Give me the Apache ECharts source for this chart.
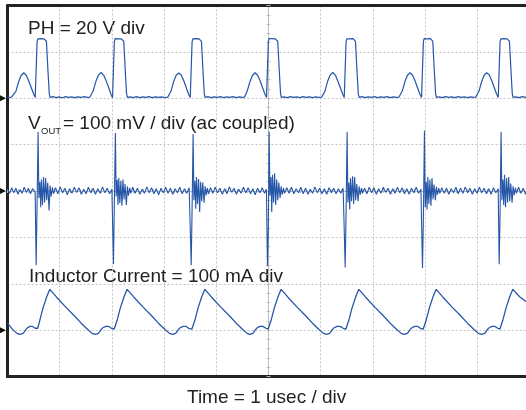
<!DOCTYPE html>
<html>
<head>
<meta charset="utf-8">
<script src="https://cdn.jsdelivr.net/npm/echarts@6.0.0/dist/echarts.min.js"></script>
<style>
html,body{margin:0;padding:0;background:#fff;}
#chart{width:526px;height:410px;}
</style>
</head>
<body>
<div id="chart"></div>
<script>
// Channel labels
const labelPH = 'PH = 20 V div';
const labelVoutMain = 'V';
const labelVoutSub = 'OUT';
const labelVoutRest = '= 100 mV / div (ac coupled)';
const labelIL = 'Inductor Current = 100 mA div';
const labelTime = 'Time = 1 usec / div';

// Time axis: 0..10 us (1 us / div)
const timeMin = 0, timeMax = 10, timeStep = 1;

// PH switch node [time us, volts]
const phTrace = [
[0.00,0.5],[0.04,0.3],[0.08,0.6],
[0.111,0.5],[0.161,3.0],[0.211,7.0],[0.261,9.8],[0.311,11.0],[0.361,9.8],[0.411,7.2],[0.461,4.2],[0.501,1.8],[0.531,0.3],
[0.558,0.2],[0.566,24.2],[0.580,25.6],[0.610,25.1],[0.640,25.7],[0.670,25.2],[0.700,25.6],[0.730,25.0],[0.746,24.6],[0.775,12.0],[0.800,2.0],[0.815,0.4],
[0.87,0.7],[0.93,0.3],[0.99,0.6],[1.05,0.2],[1.11,0.7],[1.17,0.4],[1.23,0.6],[1.29,0.3],[1.35,0.6],[1.41,0.4],[1.47,0.7],[1.53,0.4],[1.58,0.5],
[1.592,0.5],[1.642,3.2],[1.692,7.2],[1.742,10.0],[1.792,11.1],[1.842,10.0],[1.892,7.4],[1.942,4.3],[1.982,1.7],[2.012,0.2],
[2.039,0.3],[2.047,24.4],[2.061,25.7],[2.091,25.2],[2.121,25.6],[2.151,25.0],[2.181,25.6],[2.211,25.1],[2.227,24.6],[2.256,12.0],[2.281,2.0],[2.296,0.4],
[2.35,0.6],[2.41,0.3],[2.47,0.7],[2.53,0.3],[2.59,0.6],[2.65,0.4],[2.71,0.7],[2.77,0.3],[2.83,0.6],[2.89,0.4],[2.95,0.6],[3.01,0.3],[3.07,0.5],
[3.081,0.5],[3.131,3.0],[3.181,7.1],[3.231,9.9],[3.281,10.9],[3.331,9.9],[3.381,7.3],[3.431,4.1],[3.471,1.6],[3.501,0.3],
[3.528,0.2],[3.536,24.3],[3.550,25.6],[3.580,25.0],[3.610,25.7],[3.640,25.1],[3.670,25.6],[3.700,25.0],[3.716,24.5],[3.745,12.0],[3.770,2.0],[3.785,0.4],
[3.84,0.7],[3.90,0.3],[3.96,0.6],[4.02,0.4],[4.08,0.7],[4.14,0.3],[4.20,0.6],[4.26,0.4],[4.32,0.7],[4.38,0.3],[4.44,0.6],[4.50,0.4],
[4.542,0.5],[4.592,3.1],[4.642,7.0],[4.692,9.8],[4.742,11.0],[4.792,9.9],[4.842,7.3],[4.892,4.2],[4.932,1.7],[4.962,0.3],
[4.989,0.2],[4.997,24.4],[5.011,25.7],[5.041,25.1],[5.071,25.7],[5.101,25.0],[5.131,25.6],[5.161,25.1],[5.177,24.6],[5.206,12.0],[5.231,2.0],[5.246,0.4],
[5.30,0.6],[5.36,0.3],[5.42,0.7],[5.48,0.4],[5.54,0.6],[5.60,0.3],[5.66,0.7],[5.72,0.4],[5.78,0.6],[5.84,0.3],[5.90,0.6],[5.96,0.4],[6.02,0.5],
[6.031,0.5],[6.081,3.0],[6.131,7.2],[6.181,10.0],[6.231,11.1],[6.281,10.0],[6.331,7.2],[6.381,4.2],[6.421,1.8],[6.451,0.3],
[6.478,0.2],[6.486,24.3],[6.500,25.6],[6.530,25.1],[6.560,25.6],[6.590,25.0],[6.620,25.7],[6.650,25.1],[6.666,24.5],[6.695,12.0],[6.720,2.0],[6.735,0.4],
[6.79,0.7],[6.85,0.3],[6.91,0.6],[6.97,0.4],[7.03,0.7],[7.09,0.3],[7.15,0.6],[7.21,0.4],[7.27,0.7],[7.33,0.3],[7.39,0.6],[7.45,0.4],[7.50,0.5],
[7.512,0.5],[7.562,3.1],[7.612,7.1],[7.662,9.9],[7.712,11.0],[7.762,9.8],[7.812,7.2],[7.862,4.1],[7.902,1.7],[7.932,0.3],
[7.959,0.2],[7.967,24.4],[7.981,25.7],[8.011,25.0],[8.041,25.6],[8.071,25.1],[8.101,25.7],[8.131,25.0],[8.147,24.6],[8.176,12.0],[8.201,2.0],[8.216,0.4],
[8.27,0.6],[8.33,0.3],[8.39,0.7],[8.45,0.4],[8.51,0.6],[8.57,0.3],[8.63,0.7],[8.69,0.4],[8.75,0.6],[8.81,0.3],[8.87,0.6],[8.93,0.4],[8.97,0.5],
[8.981,0.5],[9.031,3.0],[9.081,7.0],[9.131,9.9],[9.181,11.0],[9.231,10.0],[9.281,7.3],[9.331,4.2],[9.371,1.7],[9.401,0.3],
[9.428,0.2],[9.436,24.3],[9.450,25.6],[9.480,25.1],[9.510,25.7],[9.540,25.0],[9.570,25.6],[9.600,25.1],[9.616,24.6],[9.645,12.0],[9.670,2.0],[9.685,0.4],
[9.74,0.6],[9.80,0.3],[9.86,0.7],[9.92,0.4],[9.97,0.6],[10.0,0.4]
];

// VOUT ripple, ac coupled [time us, mV]
const voutTrace = [
[0.00,4],[0.04,-5],[0.08,7],[0.12,-4],[0.16,6],[0.20,-7],[0.24,3],[0.28,-5],[0.32,8],[0.36,-3],[0.40,6],[0.44,-6],[0.48,5],[0.53,-3],
[0.549,-160],[0.566,-30],[0.586,127],[0.601,-15],[0.621,20],[0.636,-35],[0.651,25],[0.671,-30],[0.691,30],[0.711,-25],[0.731,28],[0.751,-20],[0.771,18],[0.796,-42],[0.816,12],[0.836,-12],[0.861,8],[0.881,-6],
[0.92,7],[0.965,-6],[1.01,9],[1.055,-4],[1.10,6],[1.145,-8],[1.19,5],[1.235,-5],[1.28,8],[1.325,-3],[1.37,7],[1.415,-7],[1.46,4],[1.505,-6],[1.55,8],[1.595,-4],[1.64,6],[1.685,-7],[1.73,5],[1.775,-5],[1.82,9],[1.865,-4],[1.91,6],[1.955,-6],[2.00,4],
[2.030,-158],[2.047,-25],[2.067,125],[2.082,-12],[2.102,24],[2.117,-30],[2.132,28],[2.152,-26],[2.172,22],[2.192,-32],[2.212,25],[2.232,-18],[2.252,15],[2.277,-30],[2.297,10],[2.317,-10],[2.342,7],[2.362,-5],
[2.40,8],[2.445,-5],[2.49,6],[2.535,-7],[2.58,4],[2.625,-5],[2.67,9],[2.715,-4],[2.76,7],[2.805,-6],[2.85,5],[2.895,-8],[2.94,6],[2.985,-4],[3.03,8],[3.075,-5],[3.12,6],[3.165,-7],[3.21,5],[3.255,-4],[3.30,8],[3.345,-6],[3.39,5],[3.435,-5],[3.48,7],
[3.519,-160],[3.536,-40],[3.556,123],[3.571,-20],[3.591,22],[3.606,-38],[3.621,30],[3.641,-28],[3.661,26],[3.681,-45],[3.701,20],[3.721,-22],[3.741,18],[3.766,-25],[3.786,10],[3.806,-9],[3.831,6],[3.851,-6],
[3.89,7],[3.935,-5],[3.98,8],[4.025,-4],[4.07,6],[4.115,-7],[4.16,5],[4.205,-6],[4.25,9],[4.295,-3],[4.34,6],[4.385,-7],[4.43,4],[4.475,-5],[4.52,8],[4.565,-4],[4.61,7],[4.655,-6],[4.70,5],[4.745,-8],[4.79,6],[4.835,-4],[4.88,7],[4.925,-5],[4.96,4],
[4.980,-162],[4.997,-80],[5.012,128],[5.027,-10],[5.047,30],[5.062,-45],[5.077,35],[5.097,-25],[5.117,38],[5.137,-30],[5.157,25],[5.177,-20],[5.197,18],[5.222,-15],[5.242,10],[5.262,-8],[5.287,6],[5.307,-5],
[5.35,7],[5.395,-5],[5.44,8],[5.485,-6],[5.53,5],[5.575,-4],[5.62,8],[5.665,-6],[5.71,6],[5.755,-7],[5.80,4],[5.845,-5],[5.89,9],[5.935,-4],[5.98,6],[6.025,-6],[6.07,5],[6.115,-7],[6.16,7],[6.205,-4],[6.25,6],[6.295,-6],[6.34,5],[6.385,-5],[6.43,6],
[6.469,-165],[6.486,-45],[6.506,127],[6.521,-25],[6.541,18],[6.556,-40],[6.571,28],[6.591,-22],[6.611,32],[6.631,-28],[6.651,30],[6.671,-20],[6.691,15],[6.716,-22],[6.736,10],[6.756,-8],[6.781,6],[6.801,-5],
[6.84,6],[6.885,-6],[6.93,8],[6.975,-4],[7.02,7],[7.065,-7],[7.11,5],[7.155,-5],[7.20,8],[7.245,-3],[7.29,6],[7.335,-7],[7.38,5],[7.425,-5],[7.47,8],[7.515,-4],[7.56,7],[7.605,-6],[7.65,5],[7.695,-7],[7.74,6],[7.785,-4],[7.83,8],[7.875,-5],[7.92,4],
[7.950,-166],[7.967,-60],[7.987,130],[8.002,-35],[8.022,20],[8.037,-40],[8.052,30],[8.072,-28],[8.092,25],[8.112,-32],[8.132,28],[8.152,-18],[8.172,14],[8.197,-20],[8.217,9],[8.237,-8],[8.262,6],[8.282,-5],
[8.32,7],[8.365,-5],[8.41,6],[8.455,-7],[8.50,5],[8.545,-4],[8.59,8],[8.635,-6],[8.68,6],[8.725,-5],[8.77,9],[8.815,-4],[8.86,6],[8.905,-7],[8.95,5],[8.995,-5],[9.04,8],[9.085,-4],[9.13,6],[9.175,-6],[9.22,5],[9.265,-7],[9.31,7],[9.355,-4],[9.40,5],
[9.419,-158],[9.436,-50],[9.456,127],[9.471,-20],[9.491,25],[9.506,-30],[9.521,35],[9.541,-35],[9.561,28],[9.581,-25],[9.601,30],[9.621,-22],[9.641,16],[9.666,-25],[9.686,10],[9.706,-9],[9.731,7],[9.751,-5],
[9.79,8],[9.835,-5],[9.88,6],[9.925,-7],[9.97,5],[10.0,-3]
];

// Inductor current [time us, mA]
const ilTrace = [
[0.00,15],[0.05,8],[0.11,0],[0.18,-7],[0.24,-9],[0.30,-7],[0.37,4],[0.43,8],[0.48,8],[0.53,4],[0.561,2],
[0.581,4],[0.621,22],[0.681,48],[0.751,72],[0.811,88],[0.821,87],[0.941,71],[1.121,49],[1.271,32],[1.411,15],[1.541,1],[1.621,-7],[1.681,-9],[1.741,-7],[1.811,4],[1.881,8],[1.941,8],[1.991,4],[2.042,2],
[2.062,4],[2.102,22],[2.162,48],[2.232,72],[2.292,88],[2.302,87],[2.422,71],[2.602,49],[2.752,32],[2.892,15],[3.022,1],[3.102,-7],[3.162,-9],[3.222,-7],[3.292,4],[3.362,8],[3.422,8],[3.472,4],[3.531,2],
[3.551,4],[3.591,22],[3.651,48],[3.721,72],[3.781,88],[3.791,87],[3.911,71],[4.091,49],[4.241,32],[4.381,15],[4.511,1],[4.591,-7],[4.641,-9],[4.701,-7],[4.771,4],[4.831,8],[4.891,8],[4.951,4],[4.992,2],
[5.012,4],[5.052,22],[5.112,48],[5.182,72],[5.242,88],[5.252,87],[5.372,71],[5.552,49],[5.702,32],[5.842,15],[5.972,1],[6.052,-7],[6.112,-9],[6.172,-7],[6.242,4],[6.312,8],[6.372,8],[6.432,4],[6.481,2],
[6.501,4],[6.541,22],[6.601,48],[6.671,72],[6.731,88],[6.741,87],[6.861,71],[7.041,49],[7.191,32],[7.331,15],[7.461,1],[7.541,-7],[7.601,-9],[7.661,-7],[7.731,4],[7.801,8],[7.861,8],[7.911,4],[7.962,2],
[7.982,4],[8.022,22],[8.082,48],[8.152,72],[8.212,88],[8.222,87],[8.342,71],[8.522,49],[8.672,32],[8.812,15],[8.942,1],[9.022,-7],[9.082,-9],[9.142,-7],[9.212,4],[9.282,8],[9.342,8],[9.392,4],[9.431,2],
[9.451,4],[9.491,22],[9.551,48],[9.621,72],[9.681,88],[9.691,87],[9.811,72],[9.93,62],[10.0,55]
];

// Vertical ranges per channel (8 divisions total)
const divMin = -4, divMax = 4;
const phRange = [-120, 40];    // 20 V/div, ground 2 div above center
const voutRange = [-400, 400]; // 100 mV/div, ground at center
const ilRange = [-100, 700];   // 100 mA/div, ground 3 div below center

const traceColor = '#2656a8';
const gridColor = '#c4c4c4';
const frameColor = '#222222';
const font = '"Liberation Sans", Arial, Helvetica, sans-serif';

const chart = echarts.init(document.getElementById('chart'), null, {renderer: 'canvas'});

function groundMarker() {
  return {
    symbol: 'triangle', symbolSize: [6, 6], symbolRotate: -90, symbolOffset: [-4.5, 0],
    silent: true, label: {show: false}, itemStyle: {color: '#111'},
    data: [{coord: [0, 0]}], animation: false
  };
}
function traceSeries(name, data, yIdx, w) {
  return {
    name: name, type: 'line', xAxisIndex: 0, yAxisIndex: yIdx, data: data,
    showSymbol: false, symbol: 'none', clip: true, animation: false, z: 3,
    lineStyle: {color: traceColor, width: w}, markPoint: groundMarker()
  };
}

const centerTickAxisX = (inside) => ({
  type: 'value', min: timeMin, max: timeMax, interval: 0.2, position: 'bottom', offset: -185.5,
  axisLine: {show: true, onZero: false, lineStyle: {color: '#bdbdbd', width: 1}},
  axisTick: {show: true, inside: inside, length: 2, lineStyle: {color: '#bdbdbd'}},
  axisLabel: {show: false}, splitLine: {show: false}
});
const centerTickAxisY = (inside) => ({
  type: 'value', min: divMin, max: divMax, interval: 0.2, position: 'left', offset: -261,
  axisLine: {show: true, onZero: false, lineStyle: {color: '#bdbdbd', width: 1}},
  axisTick: {show: true, inside: inside, length: 2, lineStyle: {color: '#bdbdbd'}},
  axisLabel: {show: false}, splitLine: {show: false}
});

const option = {
  animation: false,
  backgroundColor: '#ffffff',
  grid: {left: 7.5, top: 5.5, width: 522, height: 371, show: false,
         outerBoundsMode: 'none', containLabel: false},
  xAxis: [
    {type: 'value', min: timeMin, max: timeMax, interval: timeStep, position: 'bottom',
     axisLine: {show: true, onZero: false, lineStyle: {color: frameColor, width: 3}},
     axisTick: {show: false}, axisLabel: {show: false},
     splitLine: {show: true, lineStyle: {color: gridColor, type: [2, 2], width: 1}}},
    centerTickAxisX(false),
    centerTickAxisX(true),
    {type: 'value', min: timeMin, max: timeMax, position: 'top',
     axisLine: {show: true, onZero: false, lineStyle: {color: frameColor, width: 3}},
     axisTick: {show: false}, axisLabel: {show: false}, splitLine: {show: false}}
  ],
  yAxis: [
    {type: 'value', min: divMin, max: divMax, interval: 1, position: 'left',
     axisLine: {show: true, onZero: false, lineStyle: {color: frameColor, width: 3}},
     axisTick: {show: false}, axisLabel: {show: false},
     splitLine: {show: true, lineStyle: {color: gridColor, type: [2, 2], width: 1}}},
    centerTickAxisY(false),
    centerTickAxisY(true),
    {type: 'value', min: phRange[0], max: phRange[1], show: false, position: 'left', splitLine: {show: false}},
    {type: 'value', min: voutRange[0], max: voutRange[1], show: false, position: 'left', splitLine: {show: false}},
    {type: 'value', min: ilRange[0], max: ilRange[1], show: false, position: 'left', splitLine: {show: false}}
  ],
  series: [
    traceSeries('PH', phTrace, 3, 1.2),
    traceSeries('VOUT', voutTrace, 4, 1.1),
    traceSeries('IL', ilTrace, 5, 1.3)
  ],
  graphic: [
    {type: 'text', left: 28, top: 19, silent: true,
     style: {text: labelPH, font: '19px ' + font, fill: '#222'}},
    {type: 'text', left: 28, top: 114, silent: true,
     style: {text: labelVoutMain, font: '19px ' + font, fill: '#222'}},
    {type: 'text', left: 41, top: 126, silent: true,
     style: {text: labelVoutSub, font: '9.5px ' + font, fill: '#222'}},
    {type: 'text', left: 63, top: 114, silent: true,
     style: {text: labelVoutRest, font: '19px ' + font, fill: '#222'}},
    {type: 'text', left: 29, top: 267, silent: true,
     style: {text: labelIL, font: '19px ' + font, fill: '#222'}},
    {type: 'text', left: 187, top: 388, silent: true,
     style: {text: labelTime, font: '19px ' + font, fill: '#222'}}
  ]
};
chart.setOption(option);
</script>
</body>
</html>
